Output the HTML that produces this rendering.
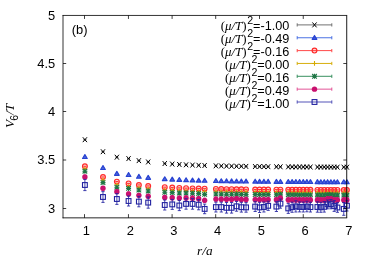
<!DOCTYPE html><html><head><meta charset="utf-8"><style>html,body{margin:0;padding:0;background:#fff}body{width:370px;height:259px;overflow:hidden}</style></head><body><svg width="370" height="259" viewBox="0 0 370 259" style="display:block;will-change:transform">
<rect width="370" height="259" fill="#fff"/>
<g><path d="M82.80 137.25L87.00 142.15M82.80 142.15L87.00 137.25" stroke="#000000" stroke-width="1.0" fill="none"/><path d="M83.40 139.7L86.40 139.7" stroke="#000000" stroke-width="0.7"/><path d="M100.89 149.25L105.09 154.15M100.89 154.15L105.09 149.25" stroke="#000000" stroke-width="1.0" fill="none"/><path d="M101.49 151.7L104.49 151.7" stroke="#000000" stroke-width="0.7"/><path d="M114.77 154.75L118.97 159.65M114.77 159.65L118.97 154.75" stroke="#000000" stroke-width="1.0" fill="none"/><path d="M115.37 157.2L118.37 157.2" stroke="#000000" stroke-width="0.7"/><path d="M126.47 156.15L130.67 161.05M126.47 161.05L130.67 156.15" stroke="#000000" stroke-width="1.0" fill="none"/><path d="M127.07 158.6L130.07 158.6" stroke="#000000" stroke-width="0.7"/><path d="M136.78 158.18L140.98 163.08M136.78 163.08L140.98 158.18" stroke="#000000" stroke-width="1.0" fill="none"/><path d="M137.38 160.63L140.38 160.63" stroke="#000000" stroke-width="0.7"/><path d="M146.10 159.50L150.30 164.40M146.10 164.40L150.30 159.50" stroke="#000000" stroke-width="1.0" fill="none"/><path d="M146.70 161.95L149.70 161.95" stroke="#000000" stroke-width="0.7"/><path d="M162.65 161.10L166.85 166.00M162.65 166.00L166.85 161.10" stroke="#000000" stroke-width="1.0" fill="none"/><path d="M163.25 163.55L166.25 163.55" stroke="#000000" stroke-width="0.7"/><path d="M170.14 161.62L174.34 166.52M170.14 166.52L174.34 161.62" stroke="#000000" stroke-width="1.0" fill="none"/><path d="M170.74 164.07L173.74 164.07" stroke="#000000" stroke-width="0.7"/><path d="M177.23 162.03L181.43 166.93M177.23 166.93L181.43 162.03" stroke="#000000" stroke-width="1.0" fill="none"/><path d="M177.83 164.48L180.83 164.48" stroke="#000000" stroke-width="0.7"/><path d="M183.97 162.36L188.17 167.26M183.97 167.26L188.17 162.36" stroke="#000000" stroke-width="1.0" fill="none"/><path d="M184.57 164.81L187.57 164.81" stroke="#000000" stroke-width="0.7"/><path d="M190.41 162.63L194.61 167.53M190.41 167.53L194.61 162.63" stroke="#000000" stroke-width="1.0" fill="none"/><path d="M191.01 165.08L194.01 165.08" stroke="#000000" stroke-width="0.7"/><path d="M196.58 162.86L200.78 167.76M196.58 167.76L200.78 162.86" stroke="#000000" stroke-width="1.0" fill="none"/><path d="M197.18 165.31L200.18 165.31" stroke="#000000" stroke-width="0.7"/><path d="M202.53 163.06L206.73 167.96M202.53 167.96L206.73 163.06" stroke="#000000" stroke-width="1.0" fill="none"/><path d="M203.13 165.51L206.13 165.51" stroke="#000000" stroke-width="0.7"/><path d="M213.81 163.37L218.01 168.27M213.81 168.27L218.01 163.37" stroke="#000000" stroke-width="1.0" fill="none"/><path d="M214.41 165.82L217.41 165.82" stroke="#000000" stroke-width="0.7"/><path d="M219.19 163.50L223.39 168.40M219.19 168.40L223.39 163.50" stroke="#000000" stroke-width="1.0" fill="none"/><path d="M219.79 165.95L222.79 165.95" stroke="#000000" stroke-width="0.7"/><path d="M224.41 163.61L228.61 168.51M224.41 168.51L228.61 163.61" stroke="#000000" stroke-width="1.0" fill="none"/><path d="M225.01 166.06L228.01 166.06" stroke="#000000" stroke-width="0.7"/><path d="M229.48 163.71L233.68 168.61M229.48 168.61L233.68 163.71" stroke="#000000" stroke-width="1.0" fill="none"/><path d="M230.08 166.16L233.08 166.16" stroke="#000000" stroke-width="0.7"/><path d="M234.43 163.79L238.63 168.69M234.43 168.69L238.63 163.79" stroke="#000000" stroke-width="1.0" fill="none"/><path d="M235.03 166.24L238.03 166.24" stroke="#000000" stroke-width="0.7"/><path d="M239.25 163.87L243.45 168.77M239.25 168.77L243.45 163.87" stroke="#000000" stroke-width="1.0" fill="none"/><path d="M239.85 166.32L242.85 166.32" stroke="#000000" stroke-width="0.7"/><path d="M243.96 163.95L248.16 168.85M243.96 168.85L248.16 163.95" stroke="#000000" stroke-width="1.0" fill="none"/><path d="M244.56 166.4L247.56 166.4" stroke="#000000" stroke-width="0.7"/><path d="M253.07 164.07L257.27 168.97M253.07 168.97L257.27 164.07" stroke="#000000" stroke-width="1.0" fill="none"/><path d="M253.67 166.52L256.67 166.52" stroke="#000000" stroke-width="0.7"/><path d="M257.48 164.13L261.68 169.03M257.48 169.03L261.68 164.13" stroke="#000000" stroke-width="1.0" fill="none"/><path d="M258.08 166.58L261.08 166.58" stroke="#000000" stroke-width="0.7"/><path d="M261.80 164.18L266.00 169.08M261.80 169.08L266.00 164.18" stroke="#000000" stroke-width="1.0" fill="none"/><path d="M262.40 166.63L265.40 166.63" stroke="#000000" stroke-width="0.7"/><path d="M266.05 164.22L270.25 169.12M266.05 169.12L270.25 164.22" stroke="#000000" stroke-width="1.0" fill="none"/><path d="M266.65 166.67L269.65 166.67" stroke="#000000" stroke-width="0.7"/><path d="M274.30 164.31L278.50 169.21M274.30 169.21L278.50 164.31" stroke="#000000" stroke-width="1.0" fill="none"/><path d="M274.90 166.76L277.90 166.76" stroke="#000000" stroke-width="0.7"/><path d="M278.32 164.34L282.52 169.24M278.32 169.24L282.52 164.34" stroke="#000000" stroke-width="1.0" fill="none"/><path d="M278.92 166.79L281.92 166.79" stroke="#000000" stroke-width="0.7"/><path d="M286.16 164.41L290.36 169.31M286.16 169.31L290.36 164.41" stroke="#000000" stroke-width="1.0" fill="none"/><path d="M286.76 166.86L289.76 166.86" stroke="#000000" stroke-width="0.7"/><path d="M290.00 164.44L294.20 169.34M290.00 169.34L294.20 164.44" stroke="#000000" stroke-width="1.0" fill="none"/><path d="M290.60 166.89L293.60 166.89" stroke="#000000" stroke-width="0.7"/><path d="M293.77 164.47L297.97 169.37M293.77 169.37L297.97 164.47" stroke="#000000" stroke-width="1.0" fill="none"/><path d="M294.37 166.92L297.37 166.92" stroke="#000000" stroke-width="0.7"/><path d="M297.49 164.49L301.69 169.39M297.49 169.39L301.69 164.49" stroke="#000000" stroke-width="1.0" fill="none"/><path d="M298.09 166.94L301.09 166.94" stroke="#000000" stroke-width="0.7"/><path d="M301.15 164.52L305.35 169.42M301.15 169.42L305.35 164.52" stroke="#000000" stroke-width="1.0" fill="none"/><path d="M301.75 166.97L304.75 166.97" stroke="#000000" stroke-width="0.7"/><path d="M304.76 164.54L308.96 169.44M304.76 169.44L308.96 164.54" stroke="#000000" stroke-width="1.0" fill="none"/><path d="M305.36 166.99L308.36 166.99" stroke="#000000" stroke-width="0.7"/><path d="M308.33 164.56L312.53 169.46M308.33 169.46L312.53 164.56" stroke="#000000" stroke-width="1.0" fill="none"/><path d="M308.93 167.01L311.93 167.01" stroke="#000000" stroke-width="0.7"/><path d="M315.32 164.60L319.52 169.50M315.32 169.50L319.52 164.60" stroke="#000000" stroke-width="1.0" fill="none"/><path d="M315.92 167.05L318.92 167.05" stroke="#000000" stroke-width="0.7"/><path d="M318.75 164.62L322.95 169.52M318.75 169.52L322.95 164.62" stroke="#000000" stroke-width="1.0" fill="none"/><path d="M319.35 167.07L322.35 167.07" stroke="#000000" stroke-width="0.7"/><path d="M322.14 164.64L326.34 169.54M322.14 169.54L326.34 164.64" stroke="#000000" stroke-width="1.0" fill="none"/><path d="M322.74 167.09L325.74 167.09" stroke="#000000" stroke-width="0.7"/><path d="M325.49 164.66L329.69 169.56M325.49 169.56L329.69 164.66" stroke="#000000" stroke-width="1.0" fill="none"/><path d="M326.09 167.11L329.09 167.11" stroke="#000000" stroke-width="0.7"/><path d="M328.80 164.67L333.00 169.57M328.80 169.57L333.00 164.67" stroke="#000000" stroke-width="1.0" fill="none"/><path d="M329.40 167.12L332.40 167.12" stroke="#000000" stroke-width="0.7"/><path d="M332.08 164.69L336.28 169.59M332.08 169.59L336.28 164.69" stroke="#000000" stroke-width="1.0" fill="none"/><path d="M332.68 167.14L335.68 167.14" stroke="#000000" stroke-width="0.7"/><path d="M335.31 164.70L339.51 169.60M335.31 169.60L339.51 164.70" stroke="#000000" stroke-width="1.0" fill="none"/><path d="M335.91 167.15L338.91 167.15" stroke="#000000" stroke-width="0.7"/><path d="M341.68 164.73L345.88 169.63M341.68 169.63L345.88 164.73" stroke="#000000" stroke-width="1.0" fill="none"/><path d="M342.28 167.18L345.28 167.18" stroke="#000000" stroke-width="0.7"/><path d="M344.82 164.74L349.02 169.64M344.82 169.64L349.02 164.74" stroke="#000000" stroke-width="1.0" fill="none"/><path d="M345.42 167.19L348.42 167.19" stroke="#000000" stroke-width="0.7"/></g>
<g><path d="M84.9 154.60L87.25 158.50L82.55 158.50Z" stroke="#2742d2" stroke-width="1.15" stroke-linejoin="round" fill="#2742d2" fill-opacity="0.82"/><path d="M102.99 165.60L105.34 169.50L100.64 169.50Z" stroke="#2742d2" stroke-width="1.15" stroke-linejoin="round" fill="#2742d2" fill-opacity="0.82"/><path d="M116.87 171.40L119.22 175.30L114.52 175.30Z" stroke="#2742d2" stroke-width="1.15" stroke-linejoin="round" fill="#2742d2" fill-opacity="0.82"/><path d="M128.57 172.60L130.92 176.50L126.22 176.50Z" stroke="#2742d2" stroke-width="1.15" stroke-linejoin="round" fill="#2742d2" fill-opacity="0.82"/><path d="M138.88 174.29L141.23 178.19L136.53 178.19Z" stroke="#2742d2" stroke-width="1.15" stroke-linejoin="round" fill="#2742d2" fill-opacity="0.82"/><path d="M148.2 175.40L150.55 179.30L145.85 179.30Z" stroke="#2742d2" stroke-width="1.15" stroke-linejoin="round" fill="#2742d2" fill-opacity="0.82"/><path d="M164.75 176.73L167.10 180.63L162.40 180.63Z" stroke="#2742d2" stroke-width="1.15" stroke-linejoin="round" fill="#2742d2" fill-opacity="0.82"/><path d="M172.24 177.17L174.59 181.07L169.89 181.07Z" stroke="#2742d2" stroke-width="1.15" stroke-linejoin="round" fill="#2742d2" fill-opacity="0.82"/><path d="M179.33 177.51L181.68 181.41L176.98 181.41Z" stroke="#2742d2" stroke-width="1.15" stroke-linejoin="round" fill="#2742d2" fill-opacity="0.82"/><path d="M186.07 177.79L188.42 181.69L183.72 181.69Z" stroke="#2742d2" stroke-width="1.15" stroke-linejoin="round" fill="#2742d2" fill-opacity="0.82"/><path d="M192.51 178.02L194.86 181.92L190.16 181.92Z" stroke="#2742d2" stroke-width="1.15" stroke-linejoin="round" fill="#2742d2" fill-opacity="0.82"/><path d="M198.68 178.21L201.03 182.11L196.33 182.11Z" stroke="#2742d2" stroke-width="1.15" stroke-linejoin="round" fill="#2742d2" fill-opacity="0.82"/><path d="M204.63 178.37L206.98 182.27L202.28 182.27Z" stroke="#2742d2" stroke-width="1.15" stroke-linejoin="round" fill="#2742d2" fill-opacity="0.82"/><path d="M215.91 178.63L218.26 182.53L213.56 182.53Z" stroke="#2742d2" stroke-width="1.15" stroke-linejoin="round" fill="#2742d2" fill-opacity="0.82"/><path d="M221.29 178.74L223.64 182.64L218.94 182.64Z" stroke="#2742d2" stroke-width="1.15" stroke-linejoin="round" fill="#2742d2" fill-opacity="0.82"/><path d="M226.51 178.83L228.86 182.73L224.16 182.73Z" stroke="#2742d2" stroke-width="1.15" stroke-linejoin="round" fill="#2742d2" fill-opacity="0.82"/><path d="M231.58 178.91L233.93 182.81L229.23 182.81Z" stroke="#2742d2" stroke-width="1.15" stroke-linejoin="round" fill="#2742d2" fill-opacity="0.82"/><path d="M236.53 178.99L238.88 182.89L234.18 182.89Z" stroke="#2742d2" stroke-width="1.15" stroke-linejoin="round" fill="#2742d2" fill-opacity="0.82"/><path d="M241.35 179.05L243.70 182.95L239.00 182.95Z" stroke="#2742d2" stroke-width="1.15" stroke-linejoin="round" fill="#2742d2" fill-opacity="0.82"/><path d="M246.06 179.11L248.41 183.01L243.71 183.01Z" stroke="#2742d2" stroke-width="1.15" stroke-linejoin="round" fill="#2742d2" fill-opacity="0.82"/><path d="M255.17 179.22L257.52 183.12L252.82 183.12Z" stroke="#2742d2" stroke-width="1.15" stroke-linejoin="round" fill="#2742d2" fill-opacity="0.82"/><path d="M259.58 179.26L261.93 183.16L257.23 183.16Z" stroke="#2742d2" stroke-width="1.15" stroke-linejoin="round" fill="#2742d2" fill-opacity="0.82"/><path d="M263.9 179.30L266.25 183.20L261.55 183.20Z" stroke="#2742d2" stroke-width="1.15" stroke-linejoin="round" fill="#2742d2" fill-opacity="0.82"/><path d="M268.15 179.34L270.50 183.24L265.80 183.24Z" stroke="#2742d2" stroke-width="1.15" stroke-linejoin="round" fill="#2742d2" fill-opacity="0.82"/><path d="M276.4 179.41L278.75 183.31L274.05 183.31Z" stroke="#2742d2" stroke-width="1.15" stroke-linejoin="round" fill="#2742d2" fill-opacity="0.82"/><path d="M280.42 179.44L282.77 183.34L278.07 183.34Z" stroke="#2742d2" stroke-width="1.15" stroke-linejoin="round" fill="#2742d2" fill-opacity="0.82"/><path d="M288.26 179.50L290.61 183.40L285.91 183.40Z" stroke="#2742d2" stroke-width="1.15" stroke-linejoin="round" fill="#2742d2" fill-opacity="0.82"/><path d="M292.1 179.52L294.45 183.42L289.75 183.42Z" stroke="#2742d2" stroke-width="1.15" stroke-linejoin="round" fill="#2742d2" fill-opacity="0.82"/><path d="M295.87 179.55L298.22 183.45L293.52 183.45Z" stroke="#2742d2" stroke-width="1.15" stroke-linejoin="round" fill="#2742d2" fill-opacity="0.82"/><path d="M299.59 179.57L301.94 183.47L297.24 183.47Z" stroke="#2742d2" stroke-width="1.15" stroke-linejoin="round" fill="#2742d2" fill-opacity="0.82"/><path d="M303.25 179.59L305.60 183.49L300.90 183.49Z" stroke="#2742d2" stroke-width="1.15" stroke-linejoin="round" fill="#2742d2" fill-opacity="0.82"/><path d="M306.86 179.61L309.21 183.51L304.51 183.51Z" stroke="#2742d2" stroke-width="1.15" stroke-linejoin="round" fill="#2742d2" fill-opacity="0.82"/><path d="M310.43 179.63L312.78 183.53L308.08 183.53Z" stroke="#2742d2" stroke-width="1.15" stroke-linejoin="round" fill="#2742d2" fill-opacity="0.82"/><path d="M317.42 179.66L319.77 183.56L315.07 183.56Z" stroke="#2742d2" stroke-width="1.15" stroke-linejoin="round" fill="#2742d2" fill-opacity="0.82"/><path d="M320.85 179.68L323.20 183.58L318.50 183.58Z" stroke="#2742d2" stroke-width="1.15" stroke-linejoin="round" fill="#2742d2" fill-opacity="0.82"/><path d="M324.24 179.69L326.59 183.59L321.89 183.59Z" stroke="#2742d2" stroke-width="1.15" stroke-linejoin="round" fill="#2742d2" fill-opacity="0.82"/><path d="M327.59 179.71L329.94 183.61L325.24 183.61Z" stroke="#2742d2" stroke-width="1.15" stroke-linejoin="round" fill="#2742d2" fill-opacity="0.82"/><path d="M330.9 179.72L333.25 183.62L328.55 183.62Z" stroke="#2742d2" stroke-width="1.15" stroke-linejoin="round" fill="#2742d2" fill-opacity="0.82"/><path d="M334.18 179.73L336.53 183.63L331.83 183.63Z" stroke="#2742d2" stroke-width="1.15" stroke-linejoin="round" fill="#2742d2" fill-opacity="0.82"/><path d="M337.41 179.75L339.76 183.65L335.06 183.65Z" stroke="#2742d2" stroke-width="1.15" stroke-linejoin="round" fill="#2742d2" fill-opacity="0.82"/><path d="M343.78 179.77L346.13 183.67L341.43 183.67Z" stroke="#2742d2" stroke-width="1.15" stroke-linejoin="round" fill="#2742d2" fill-opacity="0.82"/><path d="M346.92 179.78L349.27 183.68L344.57 183.68Z" stroke="#2742d2" stroke-width="1.15" stroke-linejoin="round" fill="#2742d2" fill-opacity="0.82"/></g>
<g><circle cx="84.9" cy="166.3" r="2.4" stroke="#ff2a2a" stroke-width="1.15" fill="#ff2a2a" fill-opacity="0.2"/><path d="M83.40 166.3L86.40 166.3" stroke="#ff2a2a" stroke-width="1"/><circle cx="102.99" cy="177.0" r="2.4" stroke="#ff2a2a" stroke-width="1.15" fill="#ff2a2a" fill-opacity="0.2"/><path d="M101.49 177.0L104.49 177.0" stroke="#ff2a2a" stroke-width="1"/><circle cx="116.87" cy="181.6" r="2.4" stroke="#ff2a2a" stroke-width="1.15" fill="#ff2a2a" fill-opacity="0.2"/><path d="M115.37 181.6L118.37 181.6" stroke="#ff2a2a" stroke-width="1"/><circle cx="128.57" cy="183.4" r="2.4" stroke="#ff2a2a" stroke-width="1.15" fill="#ff2a2a" fill-opacity="0.2"/><path d="M127.07 183.4L130.07 183.4" stroke="#ff2a2a" stroke-width="1"/><circle cx="138.88" cy="184.95" r="2.4" stroke="#ff2a2a" stroke-width="1.15" fill="#ff2a2a" fill-opacity="0.2"/><path d="M137.38 184.95L140.38 184.95" stroke="#ff2a2a" stroke-width="1"/><circle cx="148.2" cy="185.96" r="2.4" stroke="#ff2a2a" stroke-width="1.15" fill="#ff2a2a" fill-opacity="0.2"/><path d="M146.70 185.96L149.70 185.96" stroke="#ff2a2a" stroke-width="1"/><circle cx="164.75" cy="187.18" r="2.4" stroke="#ff2a2a" stroke-width="1.15" fill="#ff2a2a" fill-opacity="0.2"/><path d="M163.25 187.18L166.25 187.18" stroke="#ff2a2a" stroke-width="1"/><circle cx="172.24" cy="187.58" r="2.4" stroke="#ff2a2a" stroke-width="1.15" fill="#ff2a2a" fill-opacity="0.2"/><path d="M170.74 187.58L173.74 187.58" stroke="#ff2a2a" stroke-width="1"/><circle cx="179.33" cy="187.9" r="2.4" stroke="#ff2a2a" stroke-width="1.15" fill="#ff2a2a" fill-opacity="0.2"/><path d="M177.83 187.9L180.83 187.9" stroke="#ff2a2a" stroke-width="1"/><circle cx="186.07" cy="188.15" r="2.4" stroke="#ff2a2a" stroke-width="1.15" fill="#ff2a2a" fill-opacity="0.2"/><path d="M184.57 188.15L187.57 188.15" stroke="#ff2a2a" stroke-width="1"/><circle cx="192.51" cy="188.36" r="2.4" stroke="#ff2a2a" stroke-width="1.15" fill="#ff2a2a" fill-opacity="0.2"/><path d="M191.01 188.36L194.01 188.36" stroke="#ff2a2a" stroke-width="1"/><circle cx="198.68" cy="188.53" r="2.4" stroke="#ff2a2a" stroke-width="1.15" fill="#ff2a2a" fill-opacity="0.2"/><path d="M197.18 188.53L200.18 188.53" stroke="#ff2a2a" stroke-width="1"/><circle cx="204.63" cy="188.68" r="2.4" stroke="#ff2a2a" stroke-width="1.15" fill="#ff2a2a" fill-opacity="0.2"/><path d="M203.13 188.68L206.13 188.68" stroke="#ff2a2a" stroke-width="1"/><circle cx="215.91" cy="188.92" r="2.4" stroke="#ff2a2a" stroke-width="1.15" fill="#ff2a2a" fill-opacity="0.2"/><path d="M214.41 188.92L217.41 188.92" stroke="#ff2a2a" stroke-width="1"/><circle cx="221.29" cy="189.02" r="2.4" stroke="#ff2a2a" stroke-width="1.15" fill="#ff2a2a" fill-opacity="0.2"/><path d="M219.79 189.02L222.79 189.02" stroke="#ff2a2a" stroke-width="1"/><circle cx="226.51" cy="189.1" r="2.4" stroke="#ff2a2a" stroke-width="1.15" fill="#ff2a2a" fill-opacity="0.2"/><path d="M225.01 189.1L228.01 189.1" stroke="#ff2a2a" stroke-width="1"/><circle cx="231.58" cy="189.18" r="2.4" stroke="#ff2a2a" stroke-width="1.15" fill="#ff2a2a" fill-opacity="0.2"/><path d="M230.08 189.18L233.08 189.18" stroke="#ff2a2a" stroke-width="1"/><circle cx="236.53" cy="189.25" r="2.4" stroke="#ff2a2a" stroke-width="1.15" fill="#ff2a2a" fill-opacity="0.2"/><path d="M235.03 189.25L238.03 189.25" stroke="#ff2a2a" stroke-width="1"/><circle cx="241.35" cy="189.31" r="2.4" stroke="#ff2a2a" stroke-width="1.15" fill="#ff2a2a" fill-opacity="0.2"/><path d="M239.85 189.31L242.85 189.31" stroke="#ff2a2a" stroke-width="1"/><circle cx="246.06" cy="189.36" r="2.4" stroke="#ff2a2a" stroke-width="1.15" fill="#ff2a2a" fill-opacity="0.2"/><path d="M244.56 189.36L247.56 189.36" stroke="#ff2a2a" stroke-width="1"/><circle cx="255.17" cy="189.46" r="2.4" stroke="#ff2a2a" stroke-width="1.15" fill="#ff2a2a" fill-opacity="0.2"/><path d="M253.67 189.46L256.67 189.46" stroke="#ff2a2a" stroke-width="1"/><circle cx="259.58" cy="189.5" r="2.4" stroke="#ff2a2a" stroke-width="1.15" fill="#ff2a2a" fill-opacity="0.2"/><path d="M258.08 189.5L261.08 189.5" stroke="#ff2a2a" stroke-width="1"/><circle cx="263.9" cy="189.54" r="2.4" stroke="#ff2a2a" stroke-width="1.15" fill="#ff2a2a" fill-opacity="0.2"/><path d="M262.40 189.54L265.40 189.54" stroke="#ff2a2a" stroke-width="1"/><circle cx="268.15" cy="189.57" r="2.4" stroke="#ff2a2a" stroke-width="1.15" fill="#ff2a2a" fill-opacity="0.2"/><path d="M266.65 189.57L269.65 189.57" stroke="#ff2a2a" stroke-width="1"/><circle cx="276.4" cy="189.64" r="2.4" stroke="#ff2a2a" stroke-width="1.15" fill="#ff2a2a" fill-opacity="0.2"/><path d="M274.90 189.64L277.90 189.64" stroke="#ff2a2a" stroke-width="1"/><circle cx="280.42" cy="189.66" r="2.4" stroke="#ff2a2a" stroke-width="1.15" fill="#ff2a2a" fill-opacity="0.2"/><path d="M278.92 189.66L281.92 189.66" stroke="#ff2a2a" stroke-width="1"/><circle cx="288.26" cy="189.72" r="2.4" stroke="#ff2a2a" stroke-width="1.15" fill="#ff2a2a" fill-opacity="0.2"/><path d="M286.76 189.72L289.76 189.72" stroke="#ff2a2a" stroke-width="1"/><circle cx="292.1" cy="189.74" r="2.4" stroke="#ff2a2a" stroke-width="1.15" fill="#ff2a2a" fill-opacity="0.2"/><path d="M290.60 189.74L293.60 189.74" stroke="#ff2a2a" stroke-width="1"/><circle cx="295.87" cy="189.76" r="2.4" stroke="#ff2a2a" stroke-width="1.15" fill="#ff2a2a" fill-opacity="0.2"/><path d="M294.37 189.76L297.37 189.76" stroke="#ff2a2a" stroke-width="1"/><circle cx="299.59" cy="189.78" r="2.4" stroke="#ff2a2a" stroke-width="1.15" fill="#ff2a2a" fill-opacity="0.2"/><path d="M298.09 189.78L301.09 189.78" stroke="#ff2a2a" stroke-width="1"/><circle cx="303.25" cy="189.8" r="2.4" stroke="#ff2a2a" stroke-width="1.15" fill="#ff2a2a" fill-opacity="0.2"/><path d="M301.75 189.8L304.75 189.8" stroke="#ff2a2a" stroke-width="1"/><circle cx="306.86" cy="189.82" r="2.4" stroke="#ff2a2a" stroke-width="1.15" fill="#ff2a2a" fill-opacity="0.2"/><path d="M305.36 189.82L308.36 189.82" stroke="#ff2a2a" stroke-width="1"/><circle cx="310.43" cy="189.83" r="2.4" stroke="#ff2a2a" stroke-width="1.15" fill="#ff2a2a" fill-opacity="0.2"/><path d="M308.93 189.83L311.93 189.83" stroke="#ff2a2a" stroke-width="1"/><circle cx="317.42" cy="189.87" r="2.4" stroke="#ff2a2a" stroke-width="1.15" fill="#ff2a2a" fill-opacity="0.2"/><path d="M315.92 189.87L318.92 189.87" stroke="#ff2a2a" stroke-width="1"/><circle cx="320.85" cy="189.88" r="2.4" stroke="#ff2a2a" stroke-width="1.15" fill="#ff2a2a" fill-opacity="0.2"/><path d="M319.35 189.88L322.35 189.88" stroke="#ff2a2a" stroke-width="1"/><circle cx="324.24" cy="189.89" r="2.4" stroke="#ff2a2a" stroke-width="1.15" fill="#ff2a2a" fill-opacity="0.2"/><path d="M322.74 189.89L325.74 189.89" stroke="#ff2a2a" stroke-width="1"/><circle cx="327.59" cy="189.91" r="2.4" stroke="#ff2a2a" stroke-width="1.15" fill="#ff2a2a" fill-opacity="0.2"/><path d="M326.09 189.91L329.09 189.91" stroke="#ff2a2a" stroke-width="1"/><circle cx="330.9" cy="189.92" r="2.4" stroke="#ff2a2a" stroke-width="1.15" fill="#ff2a2a" fill-opacity="0.2"/><path d="M329.40 189.92L332.40 189.92" stroke="#ff2a2a" stroke-width="1"/><circle cx="334.18" cy="189.93" r="2.4" stroke="#ff2a2a" stroke-width="1.15" fill="#ff2a2a" fill-opacity="0.2"/><path d="M332.68 189.93L335.68 189.93" stroke="#ff2a2a" stroke-width="1"/><circle cx="337.41" cy="189.94" r="2.4" stroke="#ff2a2a" stroke-width="1.15" fill="#ff2a2a" fill-opacity="0.2"/><path d="M335.91 189.94L338.91 189.94" stroke="#ff2a2a" stroke-width="1"/><circle cx="343.78" cy="189.96" r="2.4" stroke="#ff2a2a" stroke-width="1.15" fill="#ff2a2a" fill-opacity="0.2"/><path d="M342.28 189.96L345.28 189.96" stroke="#ff2a2a" stroke-width="1"/><circle cx="346.92" cy="189.97" r="2.4" stroke="#ff2a2a" stroke-width="1.15" fill="#ff2a2a" fill-opacity="0.2"/><path d="M345.42 189.97L348.42 189.97" stroke="#ff2a2a" stroke-width="1"/></g>
<g><path d="M82.55 169.0L87.25 169.0M84.9 166.65L84.9 171.35" stroke="#d4aa00" stroke-width="1.1" fill="none"/><path d="M100.64 180.2L105.34 180.2M102.99 177.85L102.99 182.55" stroke="#d4aa00" stroke-width="1.1" fill="none"/><path d="M114.52 184.8L119.22 184.8M116.87 182.45L116.87 187.15" stroke="#d4aa00" stroke-width="1.1" fill="none"/><path d="M126.22 186.5L130.92 186.5M128.57 184.15L128.57 188.85" stroke="#d4aa00" stroke-width="1.1" fill="none"/><path d="M136.53 188.03L141.23 188.03M138.88 185.68L138.88 190.38" stroke="#d4aa00" stroke-width="1.1" fill="none"/><path d="M145.85 189.02L150.55 189.02M148.2 186.67L148.2 191.37" stroke="#d4aa00" stroke-width="1.1" fill="none"/><path d="M162.40 190.23L167.10 190.23M164.75 187.88L164.75 192.58" stroke="#d4aa00" stroke-width="1.1" fill="none"/><path d="M169.89 190.62L174.59 190.62M172.24 188.27L172.24 192.97" stroke="#d4aa00" stroke-width="1.1" fill="none"/><path d="M176.98 190.93L181.68 190.93M179.33 188.58L179.33 193.28" stroke="#d4aa00" stroke-width="1.1" fill="none"/><path d="M183.72 191.18L188.42 191.18M186.07 188.83L186.07 193.53" stroke="#d4aa00" stroke-width="1.1" fill="none"/><path d="M190.16 191.38L194.86 191.38M192.51 189.03L192.51 193.73" stroke="#d4aa00" stroke-width="1.1" fill="none"/><path d="M196.33 191.55L201.03 191.55M198.68 189.20L198.68 193.90" stroke="#d4aa00" stroke-width="1.1" fill="none"/><path d="M202.28 191.7L206.98 191.7M204.63 189.35L204.63 194.05" stroke="#d4aa00" stroke-width="1.1" fill="none"/><path d="M213.56 191.94L218.26 191.94M215.91 189.59L215.91 194.29" stroke="#d4aa00" stroke-width="1.1" fill="none"/><path d="M218.94 192.03L223.64 192.03M221.29 189.68L221.29 194.38" stroke="#d4aa00" stroke-width="1.1" fill="none"/><path d="M224.16 192.11L228.86 192.11M226.51 189.76L226.51 194.46" stroke="#d4aa00" stroke-width="1.1" fill="none"/><path d="M229.23 192.19L233.93 192.19M231.58 189.84L231.58 194.54" stroke="#d4aa00" stroke-width="1.1" fill="none"/><path d="M234.18 192.26L238.88 192.26M236.53 189.91L236.53 194.61" stroke="#d4aa00" stroke-width="1.1" fill="none"/><path d="M239.00 192.32L243.70 192.32M241.35 189.97L241.35 194.67" stroke="#d4aa00" stroke-width="1.1" fill="none"/><path d="M243.71 192.37L248.41 192.37M246.06 190.02L246.06 194.72" stroke="#d4aa00" stroke-width="1.1" fill="none"/><path d="M252.82 192.46L257.52 192.46M255.17 190.11L255.17 194.81" stroke="#d4aa00" stroke-width="1.1" fill="none"/><path d="M257.23 192.51L261.93 192.51M259.58 190.16L259.58 194.86" stroke="#d4aa00" stroke-width="1.1" fill="none"/><path d="M261.55 192.54L266.25 192.54M263.9 190.19L263.9 194.89" stroke="#d4aa00" stroke-width="1.1" fill="none"/><path d="M265.80 192.58L270.50 192.58M268.15 190.23L268.15 194.93" stroke="#d4aa00" stroke-width="1.1" fill="none"/><path d="M274.05 192.64L278.75 192.64M276.4 190.29L276.4 194.99" stroke="#d4aa00" stroke-width="1.1" fill="none"/><path d="M278.07 192.67L282.77 192.67M280.42 190.32L280.42 195.02" stroke="#d4aa00" stroke-width="1.1" fill="none"/><path d="M285.91 192.72L290.61 192.72M288.26 190.37L288.26 195.07" stroke="#d4aa00" stroke-width="1.1" fill="none"/><path d="M289.75 192.74L294.45 192.74M292.1 190.39L292.1 195.09" stroke="#d4aa00" stroke-width="1.1" fill="none"/><path d="M293.52 192.76L298.22 192.76M295.87 190.41L295.87 195.11" stroke="#d4aa00" stroke-width="1.1" fill="none"/><path d="M297.24 192.78L301.94 192.78M299.59 190.43L299.59 195.13" stroke="#d4aa00" stroke-width="1.1" fill="none"/><path d="M300.90 192.8L305.60 192.8M303.25 190.45L303.25 195.15" stroke="#d4aa00" stroke-width="1.1" fill="none"/><path d="M304.51 192.82L309.21 192.82M306.86 190.47L306.86 195.17" stroke="#d4aa00" stroke-width="1.1" fill="none"/><path d="M308.08 192.84L312.78 192.84M310.43 190.49L310.43 195.19" stroke="#d4aa00" stroke-width="1.1" fill="none"/><path d="M315.07 192.87L319.77 192.87M317.42 190.52L317.42 195.22" stroke="#d4aa00" stroke-width="1.1" fill="none"/><path d="M318.50 192.88L323.20 192.88M320.85 190.53L320.85 195.23" stroke="#d4aa00" stroke-width="1.1" fill="none"/><path d="M321.89 192.89L326.59 192.89M324.24 190.54L324.24 195.24" stroke="#d4aa00" stroke-width="1.1" fill="none"/><path d="M325.24 192.91L329.94 192.91M327.59 190.56L327.59 195.26" stroke="#d4aa00" stroke-width="1.1" fill="none"/><path d="M328.55 192.92L333.25 192.92M330.9 190.57L330.9 195.27" stroke="#d4aa00" stroke-width="1.1" fill="none"/><path d="M331.83 192.93L336.53 192.93M334.18 190.58L334.18 195.28" stroke="#d4aa00" stroke-width="1.1" fill="none"/><path d="M335.06 192.94L339.76 192.94M337.41 190.59L337.41 195.29" stroke="#d4aa00" stroke-width="1.1" fill="none"/><path d="M341.43 192.96L346.13 192.96M343.78 190.61L343.78 195.31" stroke="#d4aa00" stroke-width="1.1" fill="none"/><path d="M344.57 192.97L349.27 192.97M346.92 190.62L346.92 195.32" stroke="#d4aa00" stroke-width="1.1" fill="none"/></g>
<g><path d="M82.60 168.90L87.20 173.50M82.60 173.50L87.20 168.90M82.40 171.2L87.40 171.2M84.9 168.70L84.9 173.70" stroke="#1f7545" stroke-width="1.1" fill="none"/><path d="M100.69 180.30L105.29 184.90M100.69 184.90L105.29 180.30M100.49 182.6L105.49 182.6M102.99 180.10L102.99 185.10" stroke="#1f7545" stroke-width="1.1" fill="none"/><path d="M114.57 184.90L119.17 189.50M114.57 189.50L119.17 184.90M114.37 187.2L119.37 187.2M116.87 184.70L116.87 189.70" stroke="#1f7545" stroke-width="1.1" fill="none"/><path d="M126.27 186.10L130.87 190.70M126.27 190.70L130.87 186.10M126.07 188.4L131.07 188.4M128.57 185.90L128.57 190.90" stroke="#1f7545" stroke-width="1.1" fill="none"/><path d="M136.58 187.68L141.18 192.28M136.58 192.28L141.18 187.68M136.38 189.98L141.38 189.98M138.88 187.48L138.88 192.48" stroke="#1f7545" stroke-width="1.1" fill="none"/><path d="M145.90 188.70L150.50 193.30M145.90 193.30L150.50 188.70M145.70 191.0L150.70 191.0M148.2 188.50L148.2 193.50" stroke="#1f7545" stroke-width="1.1" fill="none"/><path d="M162.45 189.94L167.05 194.54M162.45 194.54L167.05 189.94M162.25 192.24L167.25 192.24M164.75 189.74L164.75 194.74" stroke="#1f7545" stroke-width="1.1" fill="none"/><path d="M169.94 190.35L174.54 194.95M169.94 194.95L174.54 190.35M169.74 192.65L174.74 192.65M172.24 190.15L172.24 195.15" stroke="#1f7545" stroke-width="1.1" fill="none"/><path d="M177.03 190.67L181.63 195.27M177.03 195.27L181.63 190.67M176.83 192.97L181.83 192.97M179.33 190.47L179.33 195.47" stroke="#1f7545" stroke-width="1.1" fill="none"/><path d="M183.77 190.76L188.37 195.36M183.77 195.36L188.37 190.76M183.57 193.06L188.57 193.06M186.07 190.56L186.07 195.56" stroke="#1f7545" stroke-width="1.1" fill="none"/><path d="M190.21 190.97L194.81 195.57M190.21 195.57L194.81 190.97M190.01 193.27L195.01 193.27M192.51 190.77L192.51 195.77" stroke="#1f7545" stroke-width="1.1" fill="none"/><path d="M196.38 191.31L200.98 195.91M196.38 195.91L200.98 191.31M196.18 193.61L201.18 193.61M198.68 191.11L198.68 196.11" stroke="#1f7545" stroke-width="1.1" fill="none"/><path d="M202.33 192.06L206.93 196.66M202.33 196.66L206.93 192.06M202.13 194.36L207.13 194.36M204.63 191.86L204.63 196.86" stroke="#1f7545" stroke-width="1.1" fill="none"/><path d="M213.61 191.70L218.21 196.30M213.61 196.30L218.21 191.70M213.41 194.0L218.41 194.0M215.91 191.50L215.91 196.50" stroke="#1f7545" stroke-width="1.1" fill="none"/><path d="M218.99 191.80L223.59 196.40M218.99 196.40L223.59 191.80M218.79 194.1L223.79 194.1M221.29 191.60L221.29 196.60" stroke="#1f7545" stroke-width="1.1" fill="none"/><path d="M224.21 191.89L228.81 196.49M224.21 196.49L228.81 191.89M224.01 194.19L229.01 194.19M226.51 191.69L226.51 196.69" stroke="#1f7545" stroke-width="1.1" fill="none"/><path d="M229.28 191.97L233.88 196.57M229.28 196.57L233.88 191.97M229.08 194.27L234.08 194.27M231.58 191.77L231.58 196.77" stroke="#1f7545" stroke-width="1.1" fill="none"/><path d="M234.23 191.80L238.83 196.40M234.23 196.40L238.83 191.80M234.03 194.1L239.03 194.1M236.53 191.60L236.53 196.60" stroke="#1f7545" stroke-width="1.1" fill="none"/><path d="M239.05 192.10L243.65 196.70M239.05 196.70L243.65 192.10M238.85 194.4L243.85 194.4M241.35 191.90L241.35 196.90" stroke="#1f7545" stroke-width="1.1" fill="none"/><path d="M243.76 192.15L248.36 196.75M243.76 196.75L248.36 192.15M243.56 194.45L248.56 194.45M246.06 191.95L246.06 196.95" stroke="#1f7545" stroke-width="1.1" fill="none"/><path d="M252.87 192.25L257.47 196.85M252.87 196.85L257.47 192.25M252.67 194.55L257.67 194.55M255.17 192.05L255.17 197.05" stroke="#1f7545" stroke-width="1.1" fill="none"/><path d="M257.28 192.29L261.88 196.89M257.28 196.89L261.88 192.29M257.08 194.59L262.08 194.59M259.58 192.09L259.58 197.09" stroke="#1f7545" stroke-width="1.1" fill="none"/><path d="M261.60 192.33L266.20 196.93M261.60 196.93L266.20 192.33M261.40 194.63L266.40 194.63M263.9 192.13L263.9 197.13" stroke="#1f7545" stroke-width="1.1" fill="none"/><path d="M265.85 192.37L270.45 196.97M265.85 196.97L270.45 192.37M265.65 194.67L270.65 194.67M268.15 192.17L268.15 197.17" stroke="#1f7545" stroke-width="1.1" fill="none"/><path d="M274.10 192.43L278.70 197.03M274.10 197.03L278.70 192.43M273.90 194.73L278.90 194.73M276.4 192.23L276.4 197.23" stroke="#1f7545" stroke-width="1.1" fill="none"/><path d="M278.12 191.86L282.72 196.46M278.12 196.46L282.72 191.86M277.92 194.16L282.92 194.16M280.42 191.66L280.42 196.66" stroke="#1f7545" stroke-width="1.1" fill="none"/><path d="M285.96 192.51L290.56 197.11M285.96 197.11L290.56 192.51M285.76 194.81L290.76 194.81M288.26 192.31L288.26 197.31" stroke="#1f7545" stroke-width="1.1" fill="none"/><path d="M289.80 192.54L294.40 197.14M289.80 197.14L294.40 192.54M289.60 194.84L294.60 194.84M292.1 192.34L292.1 197.34" stroke="#1f7545" stroke-width="1.1" fill="none"/><path d="M293.57 192.56L298.17 197.16M293.57 197.16L298.17 192.56M293.37 194.86L298.37 194.86M295.87 192.36L295.87 197.36" stroke="#1f7545" stroke-width="1.1" fill="none"/><path d="M297.29 192.58L301.89 197.18M297.29 197.18L301.89 192.58M297.09 194.88L302.09 194.88M299.59 192.38L299.59 197.38" stroke="#1f7545" stroke-width="1.1" fill="none"/><path d="M300.95 192.60L305.55 197.20M300.95 197.20L305.55 192.60M300.75 194.9L305.75 194.9M303.25 192.40L303.25 197.40" stroke="#1f7545" stroke-width="1.1" fill="none"/><path d="M304.56 192.62L309.16 197.22M304.56 197.22L309.16 192.62M304.36 194.92L309.36 194.92M306.86 192.42L306.86 197.42" stroke="#1f7545" stroke-width="1.1" fill="none"/><path d="M308.13 192.63L312.73 197.23M308.13 197.23L312.73 192.63M307.93 194.93L312.93 194.93M310.43 192.43L310.43 197.43" stroke="#1f7545" stroke-width="1.1" fill="none"/><path d="M315.12 192.66L319.72 197.26M315.12 197.26L319.72 192.66M314.92 194.96L319.92 194.96M317.42 192.46L317.42 197.46" stroke="#1f7545" stroke-width="1.1" fill="none"/><path d="M318.55 192.68L323.15 197.28M318.55 197.28L323.15 192.68M318.35 194.98L323.35 194.98M320.85 192.48L320.85 197.48" stroke="#1f7545" stroke-width="1.1" fill="none"/><path d="M321.94 192.69L326.54 197.29M321.94 197.29L326.54 192.69M321.74 194.99L326.74 194.99M324.24 192.49L324.24 197.49" stroke="#1f7545" stroke-width="1.1" fill="none"/><path d="M325.29 192.35L329.89 196.95M325.29 196.95L329.89 192.35M325.09 194.65L330.09 194.65M327.59 192.15L327.59 197.15" stroke="#1f7545" stroke-width="1.1" fill="none"/><path d="M328.60 192.32L333.20 196.92M328.60 196.92L333.20 192.32M328.40 194.62L333.40 194.62M330.9 192.12L330.9 197.12" stroke="#1f7545" stroke-width="1.1" fill="none"/><path d="M331.88 192.73L336.48 197.33M331.88 197.33L336.48 192.73M331.68 195.03L336.68 195.03M334.18 192.53L334.18 197.53" stroke="#1f7545" stroke-width="1.1" fill="none"/><path d="M335.11 192.74L339.71 197.34M335.11 197.34L339.71 192.74M334.91 195.04L339.91 195.04M337.41 192.54L337.41 197.54" stroke="#1f7545" stroke-width="1.1" fill="none"/><path d="M341.48 192.76L346.08 197.36M341.48 197.36L346.08 192.76M341.28 195.06L346.28 195.06M343.78 192.56L343.78 197.56" stroke="#1f7545" stroke-width="1.1" fill="none"/><path d="M344.62 192.77L349.22 197.37M344.62 197.37L349.22 192.77M344.42 195.07L349.42 195.07M346.92 192.57L346.92 197.57" stroke="#1f7545" stroke-width="1.1" fill="none"/></g>
<g><path d="M84.9 175.15L84.9 178.65M83.30000000000001 175.15L86.5 175.15M83.30000000000001 178.65L86.5 178.65" stroke="#c9106e" stroke-width="0.8" fill="none"/><circle cx="84.9" cy="176.9" r="2.7" fill="#c9106e"/><path d="M102.99 186.48786796564406L102.99 190.11213203435597M101.39 186.48786796564406L104.58999999999999 186.48786796564406M101.39 190.11213203435597L104.58999999999999 190.11213203435597" stroke="#c9106e" stroke-width="0.8" fill="none"/><circle cx="102.99" cy="188.3" r="2.7" fill="#c9106e"/><path d="M116.87 189.84019237886466L116.87 193.55980762113532M115.27000000000001 189.84019237886466L118.47 189.84019237886466M115.27000000000001 193.55980762113532L118.47 193.55980762113532" stroke="#c9106e" stroke-width="0.8" fill="none"/><circle cx="116.87" cy="191.7" r="2.7" fill="#c9106e"/><path d="M128.57 192.0L128.57 195.8M126.97 192.0L130.17 192.0M126.97 195.8L130.17 195.8" stroke="#c9106e" stroke-width="0.8" fill="none"/><circle cx="128.57" cy="193.9" r="2.7" fill="#c9106e"/><path d="M138.88 193.42458980337506L138.88 197.29541019662497M137.28 193.42458980337506L140.48 193.42458980337506M137.28 197.29541019662497L140.48 197.29541019662497" stroke="#c9106e" stroke-width="0.8" fill="none"/><circle cx="138.88" cy="195.36" r="2.7" fill="#c9106e"/><path d="M148.2 194.33257653858254L148.2 198.26742346141748M146.6 194.33257653858254L149.79999999999998 194.33257653858254M146.6 198.26742346141748L149.79999999999998 198.26742346141748" stroke="#c9106e" stroke-width="0.8" fill="none"/><circle cx="148.2" cy="196.3" r="2.7" fill="#c9106e"/><path d="M164.75 195.42573593128807L164.75 199.4742640687119M163.15 195.42573593128807L166.35 195.42573593128807M163.15 199.4742640687119L166.35 199.4742640687119" stroke="#c9106e" stroke-width="0.8" fill="none"/><circle cx="164.75" cy="197.45" r="2.7" fill="#c9106e"/><path d="M172.24 195.76999999999998L172.24 199.87M170.64000000000001 195.76999999999998L173.84 195.76999999999998M170.64000000000001 199.87L173.84 199.87" stroke="#c9106e" stroke-width="0.8" fill="none"/><circle cx="172.24" cy="197.82" r="2.7" fill="#c9106e"/><path d="M179.33 196.04565835097475L179.33 200.19434164902526M177.73000000000002 196.04565835097475L180.93 196.04565835097475M177.73000000000002 200.19434164902526L180.93 200.19434164902526" stroke="#c9106e" stroke-width="0.8" fill="none"/><circle cx="179.33" cy="198.12" r="2.7" fill="#c9106e"/><path d="M186.07 195.86250628144668L186.07 200.05749371855333M184.47 195.86250628144668L187.67 195.86250628144668M184.47 200.05749371855333L187.67 200.05749371855333" stroke="#c9106e" stroke-width="0.8" fill="none"/><circle cx="186.07" cy="197.96" r="2.7" fill="#c9106e"/><path d="M192.51 196.03038475772934L192.51 200.26961524227067M190.91 196.03038475772934L194.10999999999999 196.03038475772934M190.91 200.26961524227067L194.10999999999999 200.26961524227067" stroke="#c9106e" stroke-width="0.8" fill="none"/><circle cx="192.51" cy="198.15" r="2.7" fill="#c9106e"/><path d="M198.68 196.5791673086804L198.68 200.8608326913196M197.08 196.5791673086804L200.28 196.5791673086804M197.08 200.8608326913196L200.28 200.8608326913196" stroke="#c9106e" stroke-width="0.8" fill="none"/><circle cx="198.68" cy="198.72" r="2.7" fill="#c9106e"/><path d="M204.63 198.19875139198393L204.63 202.5212486080161M203.03 198.19875139198393L206.23 198.19875139198393M203.03 202.5212486080161L206.23 202.5212486080161" stroke="#c9106e" stroke-width="0.8" fill="none"/><circle cx="204.63" cy="200.36" r="2.7" fill="#c9106e"/><path d="M215.91 196.88000000000002L215.91 201.28M214.31 196.88000000000002L217.51 196.88000000000002M214.31 201.28L217.51 201.28" stroke="#c9106e" stroke-width="0.8" fill="none"/><circle cx="215.91" cy="199.08" r="2.7" fill="#c9106e"/><path d="M221.29 196.95153415615735L221.29 201.38846584384262M219.69 196.95153415615735L222.89 196.95153415615735M219.69 201.38846584384262L222.89 201.38846584384262" stroke="#c9106e" stroke-width="0.8" fill="none"/><circle cx="221.29" cy="199.17" r="2.7" fill="#c9106e"/><path d="M226.51 197.0136038969321L226.51 201.4863961030679M224.91 197.0136038969321L228.10999999999999 197.0136038969321M224.91 201.4863961030679L228.10999999999999 201.4863961030679" stroke="#c9106e" stroke-width="0.8" fill="none"/><circle cx="226.51" cy="199.25" r="2.7" fill="#c9106e"/><path d="M231.58 197.0661651584689L231.58 201.5738348415311M229.98000000000002 197.0661651584689L233.18 197.0661651584689M229.98000000000002 201.5738348415311L233.18 201.5738348415311" stroke="#c9106e" stroke-width="0.8" fill="none"/><circle cx="231.58" cy="199.32" r="2.7" fill="#c9106e"/><path d="M236.53 196.51917960675004L236.53 201.06082039324994M234.93 196.51917960675004L238.13 196.51917960675004M234.93 201.06082039324994L238.13 201.06082039324994" stroke="#c9106e" stroke-width="0.8" fill="none"/><circle cx="236.53" cy="198.79" r="2.7" fill="#c9106e"/><path d="M241.35 197.15261364575662L241.35 201.72738635424338M239.75 197.15261364575662L242.95 197.15261364575662M239.75 201.72738635424338L242.95 201.72738635424338" stroke="#c9106e" stroke-width="0.8" fill="none"/><circle cx="241.35" cy="199.44" r="2.7" fill="#c9106e"/><path d="M246.06 197.19643763602647L246.06 201.80356236397353M244.46 197.19643763602647L247.66 197.19643763602647M244.46 201.80356236397353L247.66 201.80356236397353" stroke="#c9106e" stroke-width="0.8" fill="none"/><circle cx="246.06" cy="199.5" r="2.7" fill="#c9106e"/><path d="M255.17 197.25515307716506L255.17 201.92484692283494M253.57 197.25515307716506L256.77 197.25515307716506M253.57 201.92484692283494L256.77 201.92484692283494" stroke="#c9106e" stroke-width="0.8" fill="none"/><circle cx="255.17" cy="199.59" r="2.7" fill="#c9106e"/><path d="M259.58 197.27L259.58 201.97M257.97999999999996 197.27L261.18 197.27M257.97999999999996 201.97L261.18 201.97" stroke="#c9106e" stroke-width="0.8" fill="none"/><circle cx="259.58" cy="199.62" r="2.7" fill="#c9106e"/><path d="M263.9 197.29514707296107L263.9 202.02485292703892M262.29999999999995 197.29514707296107L265.5 197.29514707296107M262.29999999999995 202.02485292703892L265.5 202.02485292703892" stroke="#c9106e" stroke-width="0.8" fill="none"/><circle cx="263.9" cy="199.66" r="2.7" fill="#c9106e"/><path d="M268.15 197.310577136594L268.15 202.069422863406M266.54999999999995 197.310577136594L269.75 197.310577136594M266.54999999999995 202.069422863406L269.75 202.069422863406" stroke="#c9106e" stroke-width="0.8" fill="none"/><circle cx="268.15" cy="199.69" r="2.7" fill="#c9106e"/><path d="M276.4 197.34222527892982L276.4 202.15777472107018M274.79999999999995 197.34222527892982L278.0 197.34222527892982M274.79999999999995 202.15777472107018L278.0 202.15777472107018" stroke="#c9106e" stroke-width="0.8" fill="none"/><circle cx="276.4" cy="199.75" r="2.7" fill="#c9106e"/><path d="M280.42 195.85841616374225L280.42 200.70158383625775M278.82 195.85841616374225L282.02000000000004 195.85841616374225M278.82 200.70158383625775L282.02000000000004 200.70158383625775" stroke="#c9106e" stroke-width="0.8" fill="none"/><circle cx="280.42" cy="198.28" r="2.7" fill="#c9106e"/><path d="M288.26 197.38147186257615L288.26 202.27852813742388M286.65999999999997 197.38147186257615L289.86 197.38147186257615M286.65999999999997 202.27852813742388L289.86 202.27852813742388" stroke="#c9106e" stroke-width="0.8" fill="none"/><circle cx="288.26" cy="199.83" r="2.7" fill="#c9106e"/><path d="M292.1 197.3883156030193L292.1 202.3116843969807M290.5 197.3883156030193L293.70000000000005 197.3883156030193M290.5 202.3116843969807L293.70000000000005 202.3116843969807" stroke="#c9106e" stroke-width="0.8" fill="none"/><circle cx="292.1" cy="199.85" r="2.7" fill="#c9106e"/><path d="M295.87 197.3953572157732L295.87 202.3446427842268M294.27 197.3953572157732L297.47 197.3953572157732M294.27 202.3446427842268L297.47 202.3446427842268" stroke="#c9106e" stroke-width="0.8" fill="none"/><circle cx="295.87" cy="199.87" r="2.7" fill="#c9106e"/><path d="M299.59 197.40258803253505L299.59 202.37741196746492M297.98999999999995 197.40258803253505L301.19 197.40258803253505M297.98999999999995 202.37741196746492L301.19 202.37741196746492" stroke="#c9106e" stroke-width="0.8" fill="none"/><circle cx="299.59" cy="199.89" r="2.7" fill="#c9106e"/><path d="M303.25 197.41L303.25 202.41M301.65 197.41L304.85 197.41M301.65 202.41L304.85 202.41" stroke="#c9106e" stroke-width="0.8" fill="none"/><circle cx="303.25" cy="199.91" r="2.7" fill="#c9106e"/><path d="M306.86 197.40758562045525L306.86 202.43241437954472M305.26 197.40758562045525L308.46000000000004 197.40758562045525M305.26 202.43241437954472L308.46000000000004 202.43241437954472" stroke="#c9106e" stroke-width="0.8" fill="none"/><circle cx="306.86" cy="199.92" r="2.7" fill="#c9106e"/><path d="M310.43 197.41533789955466L310.43 202.46466210044534M308.83 197.41533789955466L312.03000000000003 197.41533789955466M308.83 202.46466210044534L312.03000000000003 202.46466210044534" stroke="#c9106e" stroke-width="0.8" fill="none"/><circle cx="310.43" cy="199.94" r="2.7" fill="#c9106e"/><path d="M317.42 197.42131670194948L317.42 202.51868329805052M315.82 197.42131670194948L319.02000000000004 197.42131670194948M315.82 202.51868329805052L319.02000000000004 202.51868329805052" stroke="#c9106e" stroke-width="0.8" fill="none"/><circle cx="317.42" cy="199.97" r="2.7" fill="#c9106e"/><path d="M320.85 197.41953136438505L320.85 202.54046863561493M319.25 197.41953136438505L322.45000000000005 197.41953136438505M319.25 202.54046863561493L322.45000000000005 202.54046863561493" stroke="#c9106e" stroke-width="0.8" fill="none"/><circle cx="320.85" cy="199.98" r="2.7" fill="#c9106e"/><path d="M324.24 197.41788889523883L324.24 202.5621111047612M322.64 197.41788889523883L325.84000000000003 197.41788889523883M322.64 202.5621111047612L325.84000000000003 202.5621111047612" stroke="#c9106e" stroke-width="0.8" fill="none"/><circle cx="324.24" cy="199.99" r="2.7" fill="#c9106e"/><path d="M327.59 196.5263842213547L327.59 201.69361577864532M325.98999999999995 196.5263842213547L329.19 196.5263842213547M325.98999999999995 201.69361577864532L329.19 201.69361577864532" stroke="#c9106e" stroke-width="0.8" fill="none"/><circle cx="327.59" cy="199.11" r="2.7" fill="#c9106e"/><path d="M330.9 196.4250125628934L330.9 201.61498743710663M329.29999999999995 196.4250125628934L332.5 196.4250125628934M329.29999999999995 201.61498743710663L332.5 201.61498743710663" stroke="#c9106e" stroke-width="0.8" fill="none"/><circle cx="330.9" cy="199.02" r="2.7" fill="#c9106e"/><path d="M334.18 197.4237694101251L334.18 202.6362305898749M332.58 197.4237694101251L335.78000000000003 197.4237694101251M332.58 202.6362305898749L335.78000000000003 202.6362305898749" stroke="#c9106e" stroke-width="0.8" fill="none"/><circle cx="334.18" cy="200.03" r="2.7" fill="#c9106e"/><path d="M337.41 197.4226505025312L337.41 202.65734949746877M335.81 197.4226505025312L339.01000000000005 197.4226505025312M335.81 202.65734949746877L339.01000000000005 202.65734949746877" stroke="#c9106e" stroke-width="0.8" fill="none"/><circle cx="337.41" cy="200.04" r="2.7" fill="#c9106e"/><path d="M343.78 197.4207695154587L343.78 202.69923048454132M342.17999999999995 197.4207695154587L345.38 197.4207695154587M342.17999999999995 202.69923048454132L345.38 202.69923048454132" stroke="#c9106e" stroke-width="0.8" fill="none"/><circle cx="343.78" cy="200.06" r="2.7" fill="#c9106e"/><path d="M346.92 197.42L346.92 202.72M345.32 197.42L348.52000000000004 197.42M345.32 202.72L348.52000000000004 202.72" stroke="#c9106e" stroke-width="0.8" fill="none"/><circle cx="346.92" cy="200.07" r="2.7" fill="#c9106e"/></g>
<g><path d="M84.9 179.4L84.9 190.6M83.30000000000001 179.4L86.5 179.4M83.30000000000001 190.6L86.5 190.6" stroke="#2222a0" stroke-width="0.85" fill="none"/><rect x="82.50" y="182.60" width="4.8" height="4.8" stroke="#2222a0" stroke-width="1.1" fill="none"/><path d="M102.99 191.6L102.99 202.4M101.39 191.6L104.58999999999999 191.6M101.39 202.4L104.58999999999999 202.4" stroke="#2222a0" stroke-width="0.85" fill="none"/><rect x="100.59" y="194.60" width="4.8" height="4.8" stroke="#2222a0" stroke-width="1.1" fill="none"/><path d="M116.87 193.6L116.87 204.4M115.27000000000001 193.6L118.47 193.6M115.27000000000001 204.4L118.47 204.4" stroke="#2222a0" stroke-width="0.85" fill="none"/><rect x="114.47" y="196.60" width="4.8" height="4.8" stroke="#2222a0" stroke-width="1.1" fill="none"/><path d="M128.57 196.0L128.57 206.0M126.97 196.0L130.17 196.0M126.97 206.0L130.17 206.0" stroke="#2222a0" stroke-width="0.85" fill="none"/><rect x="126.17" y="198.60" width="4.8" height="4.8" stroke="#2222a0" stroke-width="1.1" fill="none"/><path d="M138.88 196.4L138.88 206.79999999999998M137.28 196.4L140.48 196.4M137.28 206.79999999999998L140.48 206.79999999999998" stroke="#2222a0" stroke-width="0.85" fill="none"/><rect x="136.48" y="199.20" width="4.8" height="4.8" stroke="#2222a0" stroke-width="1.1" fill="none"/><path d="M148.2 197.0L148.2 208.2M146.6 197.0L149.79999999999998 197.0M146.6 208.2L149.79999999999998 208.2" stroke="#2222a0" stroke-width="0.85" fill="none"/><rect x="145.80" y="200.20" width="4.8" height="4.8" stroke="#2222a0" stroke-width="1.1" fill="none"/><path d="M164.75 200.0L164.75 210.0M163.15 200.0L166.35 200.0M163.15 210.0L166.35 210.0" stroke="#2222a0" stroke-width="0.85" fill="none"/><rect x="162.35" y="202.60" width="4.8" height="4.8" stroke="#2222a0" stroke-width="1.1" fill="none"/><path d="M172.24 199.4L172.24 209.4M170.64000000000001 199.4L173.84 199.4M170.64000000000001 209.4L173.84 209.4" stroke="#2222a0" stroke-width="0.85" fill="none"/><rect x="169.84" y="202.00" width="4.8" height="4.8" stroke="#2222a0" stroke-width="1.1" fill="none"/><path d="M179.33 200.4L179.33 210.6M177.73000000000002 200.4L180.93 200.4M177.73000000000002 210.6L180.93 210.6" stroke="#2222a0" stroke-width="0.85" fill="none"/><rect x="176.93" y="203.10" width="4.8" height="4.8" stroke="#2222a0" stroke-width="1.1" fill="none"/><path d="M186.07 198.6L186.07 209.20000000000002M184.47 198.6L187.67 198.6M184.47 209.20000000000002L187.67 209.20000000000002" stroke="#2222a0" stroke-width="0.85" fill="none"/><rect x="183.67" y="201.50" width="4.8" height="4.8" stroke="#2222a0" stroke-width="1.1" fill="none"/><path d="M192.51 198.6L192.51 209.20000000000002M190.91 198.6L194.10999999999999 198.6M190.91 209.20000000000002L194.10999999999999 209.20000000000002" stroke="#2222a0" stroke-width="0.85" fill="none"/><rect x="190.11" y="201.50" width="4.8" height="4.8" stroke="#2222a0" stroke-width="1.1" fill="none"/><path d="M198.68 199.6L198.68 209.79999999999998M197.08 199.6L200.28 199.6M197.08 209.79999999999998L200.28 209.79999999999998" stroke="#2222a0" stroke-width="0.85" fill="none"/><rect x="196.28" y="202.30" width="4.8" height="4.8" stroke="#2222a0" stroke-width="1.1" fill="none"/><path d="M204.63 204.1L204.63 213.70000000000002M203.03 204.1L206.23 204.1M203.03 213.70000000000002L206.23 213.70000000000002" stroke="#2222a0" stroke-width="0.85" fill="none"/><rect x="202.23" y="206.50" width="4.8" height="4.8" stroke="#2222a0" stroke-width="1.1" fill="none"/><path d="M215.91 202.2L215.91 212.0M214.31 202.2L217.51 202.2M214.31 212.0L217.51 212.0" stroke="#2222a0" stroke-width="0.85" fill="none"/><rect x="213.51" y="204.70" width="4.8" height="4.8" stroke="#2222a0" stroke-width="1.1" fill="none"/><path d="M221.29 202.2L221.29 212.0M219.69 202.2L222.89 202.2M219.69 212.0L222.89 212.0" stroke="#2222a0" stroke-width="0.85" fill="none"/><rect x="218.89" y="204.70" width="4.8" height="4.8" stroke="#2222a0" stroke-width="1.1" fill="none"/><path d="M226.51 202.5L226.51 213.10000000000002M224.91 202.5L228.10999999999999 202.5M224.91 213.10000000000002L228.10999999999999 213.10000000000002" stroke="#2222a0" stroke-width="0.85" fill="none"/><rect x="224.11" y="205.40" width="4.8" height="4.8" stroke="#2222a0" stroke-width="1.1" fill="none"/><path d="M231.58 202.5L231.58 213.10000000000002M229.98000000000002 202.5L233.18 202.5M229.98000000000002 213.10000000000002L233.18 213.10000000000002" stroke="#2222a0" stroke-width="0.85" fill="none"/><rect x="229.18" y="205.40" width="4.8" height="4.8" stroke="#2222a0" stroke-width="1.1" fill="none"/><path d="M236.53 201.4L236.53 211.20000000000002M234.93 201.4L238.13 201.4M234.93 211.20000000000002L238.13 211.20000000000002" stroke="#2222a0" stroke-width="0.85" fill="none"/><rect x="234.13" y="203.90" width="4.8" height="4.8" stroke="#2222a0" stroke-width="1.1" fill="none"/><path d="M241.35 202.29999999999998L241.35 212.1M239.75 202.29999999999998L242.95 202.29999999999998M239.75 212.1L242.95 212.1" stroke="#2222a0" stroke-width="0.85" fill="none"/><rect x="238.95" y="204.80" width="4.8" height="4.8" stroke="#2222a0" stroke-width="1.1" fill="none"/><path d="M246.06 202.6L246.06 212.20000000000002M244.46 202.6L247.66 202.6M244.46 212.20000000000002L247.66 212.20000000000002" stroke="#2222a0" stroke-width="0.85" fill="none"/><rect x="243.66" y="205.00" width="4.8" height="4.8" stroke="#2222a0" stroke-width="1.1" fill="none"/><path d="M255.17 201.7L255.17 211.5M253.57 201.7L256.77 201.7M253.57 211.5L256.77 211.5" stroke="#2222a0" stroke-width="0.85" fill="none"/><rect x="252.77" y="204.20" width="4.8" height="4.8" stroke="#2222a0" stroke-width="1.1" fill="none"/><path d="M259.58 202.3L259.58 212.5M257.97999999999996 202.3L261.18 202.3M257.97999999999996 212.5L261.18 212.5" stroke="#2222a0" stroke-width="0.85" fill="none"/><rect x="257.18" y="205.00" width="4.8" height="4.8" stroke="#2222a0" stroke-width="1.1" fill="none"/><path d="M263.9 202.0L263.9 212.0M262.29999999999995 202.0L265.5 202.0M262.29999999999995 212.0L265.5 212.0" stroke="#2222a0" stroke-width="0.85" fill="none"/><rect x="261.50" y="204.60" width="4.8" height="4.8" stroke="#2222a0" stroke-width="1.1" fill="none"/><path d="M268.15 201.20000000000002L268.15 210.4M266.54999999999995 201.20000000000002L269.75 201.20000000000002M266.54999999999995 210.4L269.75 210.4" stroke="#2222a0" stroke-width="0.85" fill="none"/><rect x="265.75" y="203.40" width="4.8" height="4.8" stroke="#2222a0" stroke-width="1.1" fill="none"/><path d="M276.4 201.7L276.4 211.5M274.79999999999995 201.7L278.0 201.7M274.79999999999995 211.5L278.0 211.5" stroke="#2222a0" stroke-width="0.85" fill="none"/><rect x="274.00" y="204.20" width="4.8" height="4.8" stroke="#2222a0" stroke-width="1.1" fill="none"/><path d="M280.42 199.0L280.42 208.2M278.82 199.0L282.02000000000004 199.0M278.82 208.2L282.02000000000004 208.2" stroke="#2222a0" stroke-width="0.85" fill="none"/><rect x="278.02" y="201.20" width="4.8" height="4.8" stroke="#2222a0" stroke-width="1.1" fill="none"/><path d="M288.26 203.4L288.26 213.4M286.65999999999997 203.4L289.86 203.4M286.65999999999997 213.4L289.86 213.4" stroke="#2222a0" stroke-width="0.85" fill="none"/><rect x="285.86" y="206.00" width="4.8" height="4.8" stroke="#2222a0" stroke-width="1.1" fill="none"/><path d="M292.1 202.1L292.1 212.29999999999998M290.5 202.1L293.70000000000005 202.1M290.5 212.29999999999998L293.70000000000005 212.29999999999998" stroke="#2222a0" stroke-width="0.85" fill="none"/><rect x="289.70" y="204.80" width="4.8" height="4.8" stroke="#2222a0" stroke-width="1.1" fill="none"/><path d="M295.87 200.8L295.87 212.0M294.27 200.8L297.47 200.8M294.27 212.0L297.47 212.0" stroke="#2222a0" stroke-width="0.85" fill="none"/><rect x="293.47" y="204.00" width="4.8" height="4.8" stroke="#2222a0" stroke-width="1.1" fill="none"/><path d="M299.59 201.9L299.59 211.9M297.98999999999995 201.9L301.19 201.9M297.98999999999995 211.9L301.19 211.9" stroke="#2222a0" stroke-width="0.85" fill="none"/><rect x="297.19" y="204.50" width="4.8" height="4.8" stroke="#2222a0" stroke-width="1.1" fill="none"/><path d="M303.25 202.0L303.25 212.0M301.65 202.0L304.85 202.0M301.65 212.0L304.85 212.0" stroke="#2222a0" stroke-width="0.85" fill="none"/><rect x="300.85" y="204.60" width="4.8" height="4.8" stroke="#2222a0" stroke-width="1.1" fill="none"/><path d="M306.86 201.2L306.86 211.8M305.26 201.2L308.46000000000004 201.2M305.26 211.8L308.46000000000004 211.8" stroke="#2222a0" stroke-width="0.85" fill="none"/><rect x="304.46" y="204.10" width="4.8" height="4.8" stroke="#2222a0" stroke-width="1.1" fill="none"/><path d="M310.43 202.2L310.43 212.0M308.83 202.2L312.03000000000003 202.2M308.83 212.0L312.03000000000003 212.0" stroke="#2222a0" stroke-width="0.85" fill="none"/><rect x="308.03" y="204.70" width="4.8" height="4.8" stroke="#2222a0" stroke-width="1.1" fill="none"/><path d="M317.42 201.8L317.42 212.2M315.82 201.8L319.02000000000004 201.8M315.82 212.2L319.02000000000004 212.2" stroke="#2222a0" stroke-width="0.85" fill="none"/><rect x="315.02" y="204.60" width="4.8" height="4.8" stroke="#2222a0" stroke-width="1.1" fill="none"/><path d="M320.85 202.3L320.85 212.3M319.25 202.3L322.45000000000005 202.3M319.25 212.3L322.45000000000005 212.3" stroke="#2222a0" stroke-width="0.85" fill="none"/><rect x="318.45" y="204.90" width="4.8" height="4.8" stroke="#2222a0" stroke-width="1.1" fill="none"/><path d="M324.24 201.5L324.24 212.10000000000002M322.64 201.5L325.84000000000003 201.5M322.64 212.10000000000002L325.84000000000003 212.10000000000002" stroke="#2222a0" stroke-width="0.85" fill="none"/><rect x="321.84" y="204.40" width="4.8" height="4.8" stroke="#2222a0" stroke-width="1.1" fill="none"/><path d="M327.59 200.0L327.59 208.8M325.98999999999995 200.0L329.19 200.0M325.98999999999995 208.8L329.19 208.8" stroke="#2222a0" stroke-width="0.85" fill="none"/><rect x="325.19" y="202.00" width="4.8" height="4.8" stroke="#2222a0" stroke-width="1.1" fill="none"/><path d="M330.9 199.6L330.9 208.79999999999998M329.29999999999995 199.6L332.5 199.6M329.29999999999995 208.79999999999998L332.5 208.79999999999998" stroke="#2222a0" stroke-width="0.85" fill="none"/><rect x="328.50" y="201.80" width="4.8" height="4.8" stroke="#2222a0" stroke-width="1.1" fill="none"/><path d="M334.18 200.6L334.18 211.4M332.58 200.6L335.78000000000003 200.6M332.58 211.4L335.78000000000003 211.4" stroke="#2222a0" stroke-width="0.85" fill="none"/><rect x="331.78" y="203.60" width="4.8" height="4.8" stroke="#2222a0" stroke-width="1.1" fill="none"/><path d="M337.41 202.7L337.41 212.3M335.81 202.7L339.01000000000005 202.7M335.81 212.3L339.01000000000005 212.3" stroke="#2222a0" stroke-width="0.85" fill="none"/><rect x="335.01" y="205.10" width="4.8" height="4.8" stroke="#2222a0" stroke-width="1.1" fill="none"/><path d="M343.78 202.5L343.78 215.3M342.17999999999995 202.5L345.38 202.5M342.17999999999995 215.3L345.38 215.3" stroke="#2222a0" stroke-width="0.85" fill="none"/><rect x="341.38" y="206.50" width="4.8" height="4.8" stroke="#2222a0" stroke-width="1.1" fill="none"/><path d="M346.92 200.39999999999998L346.92 211.0M345.32 200.39999999999998L348.52000000000004 200.39999999999998M345.32 211.0L348.52000000000004 211.0" stroke="#2222a0" stroke-width="0.85" fill="none"/><rect x="344.52" y="203.30" width="4.8" height="4.8" stroke="#2222a0" stroke-width="1.1" fill="none"/></g>
<path d="M63.0 15.049999999999999L63.0 218.25" stroke="#000" stroke-width="0.8" fill="none"/>
<path d="M62.6 15.45L347.17 15.45" stroke="#000" stroke-width="0.8" fill="none"/>
<path d="M346.72 15.45L346.72 217.85" stroke="#000" stroke-width="0.9" fill="none"/>
<path d="M62.6 217.85L347.17 217.85" stroke="#000" stroke-width="0.85" fill="none"/>
<path d="M84.5 217.85L84.5 214.15M84.5 15.45L84.5 18.95M128.45 217.85L128.45 214.15M128.45 15.45L128.45 18.95M172.1 217.85L172.1 214.15M172.1 15.45L172.1 18.95M215.7 217.85L215.7 214.15M215.7 15.45L215.7 18.95M259.5 217.85L259.5 214.15M259.5 15.45L259.5 18.95M303.25 217.85L303.25 214.15M303.25 15.45L303.25 18.95M63.0 208.5L66.2 208.5M346.72 208.5L343.32000000000005 208.5M63.0 160.0L66.2 160.0M346.72 160.0L343.32000000000005 160.0M63.0 111.5L66.2 111.5M346.72 111.5L343.32000000000005 111.5M63.0 63.5L66.2 63.5M346.72 63.5L343.32000000000005 63.5" stroke="#000" stroke-width="0.75" fill="none"/>
<g font-family="Liberation Sans, sans-serif" font-size="12.9px" fill="#000">
<text x="86.35" y="234.7" text-anchor="middle">1</text>
<text x="130.3" y="234.7" text-anchor="middle">2</text>
<text x="173.95" y="234.7" text-anchor="middle">3</text>
<text x="217.55" y="234.7" text-anchor="middle">4</text>
<text x="261.35" y="234.7" text-anchor="middle">5</text>
<text x="305.1" y="234.7" text-anchor="middle">6</text>
<text x="348.85" y="234.7" text-anchor="middle">7</text>
<text x="55.2" y="212.75" text-anchor="end">3</text>
<text x="55.2" y="164.25" text-anchor="end">3.5</text>
<text x="55.2" y="115.75" text-anchor="end">4</text>
<text x="55.2" y="67.75" text-anchor="end">4.5</text>
<text x="55.2" y="19.7" text-anchor="end">5</text>
<text x="71.8" y="33.8">(b)</text>
</g>
<text x="204.8" y="254.7" text-anchor="middle" font-family="Liberation Serif, serif" font-style="italic" font-size="13.3px">r/a</text>
<g transform="translate(13.6,116.0) rotate(-90)"><text x="0" y="0" text-anchor="middle" font-family="Liberation Serif, serif" font-style="italic" font-size="13.3px">V<tspan font-family="Liberation Sans, sans-serif" font-style="normal" font-size="10.4px" dy="4" dx="-0.8">6</tspan><tspan dy="-4">/T</tspan></text></g>
<text x="289.4" y="30.45" text-anchor="end" font-size="12.7px" font-family="Liberation Sans, sans-serif"><tspan font-family="Liberation Serif, serif" font-size="12.9px">(<tspan font-style="italic">μ/T</tspan>)</tspan><tspan font-size="10.6px" dy="-6.0" dx="0.6">2</tspan><tspan dy="6.0" dx="0">=-1.00</tspan></text>
<path d="M297.2 24.9L331.8 24.9M297.2 23.299999999999997L297.2 26.5M331.8 23.299999999999997L331.8 26.5" stroke="#6a6a6a" stroke-width="0.95" fill="none"/>
<path d="M312.40 22.45L316.60 27.35M312.40 27.35L316.60 22.45" stroke="#000000" stroke-width="1.0" fill="none"/>
<text x="289.4" y="43.3" text-anchor="end" font-size="12.7px" font-family="Liberation Sans, sans-serif"><tspan font-family="Liberation Serif, serif" font-size="12.9px">(<tspan font-style="italic">μ/T</tspan>)</tspan><tspan font-size="10.6px" dy="-6.0" dx="0.6">2</tspan><tspan dy="6.0" dx="0">=-0.49</tspan></text>
<path d="M297.2 37.75L331.8 37.75M297.2 36.15L297.2 39.35M331.8 36.15L331.8 39.35" stroke="#4169e1" stroke-width="0.95" fill="none"/>
<path d="M314.5 35.45L316.85 39.35L312.15 39.35Z" stroke="#2742d2" stroke-width="1.15" stroke-linejoin="round" fill="#2742d2" fill-opacity="0.82"/>
<text x="289.4" y="56.14999999999999" text-anchor="end" font-size="12.7px" font-family="Liberation Sans, sans-serif"><tspan font-family="Liberation Serif, serif" font-size="12.9px">(<tspan font-style="italic">μ/T</tspan>)</tspan><tspan font-size="10.6px" dy="-6.0" dx="0.6">2</tspan><tspan dy="6.0" dx="0">=-0.16</tspan></text>
<path d="M297.2 50.599999999999994L331.8 50.599999999999994M297.2 48.99999999999999L297.2 52.199999999999996M331.8 48.99999999999999L331.8 52.199999999999996" stroke="#ff4040" stroke-width="0.95" fill="none"/>
<circle cx="314.5" cy="50.6" r="2.4" stroke="#ff2a2a" stroke-width="1.15" fill="#ff2a2a" fill-opacity="0.2"/><path d="" stroke="#ff2a2a" stroke-width="1"/>
<text x="289.4" y="69.0" text-anchor="end" font-size="12.7px" font-family="Liberation Sans, sans-serif"><tspan font-family="Liberation Serif, serif" font-size="12.9px">(<tspan font-style="italic">μ/T</tspan>)</tspan><tspan font-size="10.6px" dy="-6.0" dx="0.6">2</tspan><tspan dy="6.0" dx="0">=0.00</tspan></text>
<path d="M297.2 63.449999999999996L331.8 63.449999999999996M297.2 61.849999999999994L297.2 65.05M331.8 61.849999999999994L331.8 65.05" stroke="#d4aa00" stroke-width="0.95" fill="none"/>
<path d="M312.15 63.45L316.85 63.45M314.5 61.10L314.5 65.80" stroke="#d4aa00" stroke-width="1.1" fill="none"/>
<text x="289.4" y="81.85" text-anchor="end" font-size="12.7px" font-family="Liberation Sans, sans-serif"><tspan font-family="Liberation Serif, serif" font-size="12.9px">(<tspan font-style="italic">μ/T</tspan>)</tspan><tspan font-size="10.6px" dy="-6.0" dx="0.6">2</tspan><tspan dy="6.0" dx="0">=0.16</tspan></text>
<path d="M297.2 76.3L331.8 76.3M297.2 74.7L297.2 77.89999999999999M331.8 74.7L331.8 77.89999999999999" stroke="#2e8b57" stroke-width="0.95" fill="none"/>
<path d="M312.20 74.00L316.80 78.60M312.20 78.60L316.80 74.00M312.00 76.3L317.00 76.3M314.5 73.80L314.5 78.80" stroke="#1f7545" stroke-width="1.1" fill="none"/>
<text x="289.4" y="94.7" text-anchor="end" font-size="12.7px" font-family="Liberation Sans, sans-serif"><tspan font-family="Liberation Serif, serif" font-size="12.9px">(<tspan font-style="italic">μ/T</tspan>)</tspan><tspan font-size="10.6px" dy="-6.0" dx="0.6">2</tspan><tspan dy="6.0" dx="0">=0.49</tspan></text>
<path d="M297.2 89.15L331.8 89.15M297.2 87.55000000000001L297.2 90.75M331.8 87.55000000000001L331.8 90.75" stroke="#e24a90" stroke-width="0.95" fill="none"/>
<circle cx="314.5" cy="89.15" r="2.7" fill="#c9106e"/>
<text x="289.4" y="107.55" text-anchor="end" font-size="12.7px" font-family="Liberation Sans, sans-serif"><tspan font-family="Liberation Serif, serif" font-size="12.9px">(<tspan font-style="italic">μ/T</tspan>)</tspan><tspan font-size="10.6px" dy="-6.0" dx="0.6">2</tspan><tspan dy="6.0" dx="0">=1.00</tspan></text>
<path d="M297.2 102.0L331.8 102.0M297.2 100.4L297.2 103.6M331.8 100.4L331.8 103.6" stroke="#4a4ab4" stroke-width="0.95" fill="none"/>
<rect x="312.10" y="99.60" width="4.8" height="4.8" stroke="#2222a0" stroke-width="1.1" fill="none"/>
</svg></body></html>
